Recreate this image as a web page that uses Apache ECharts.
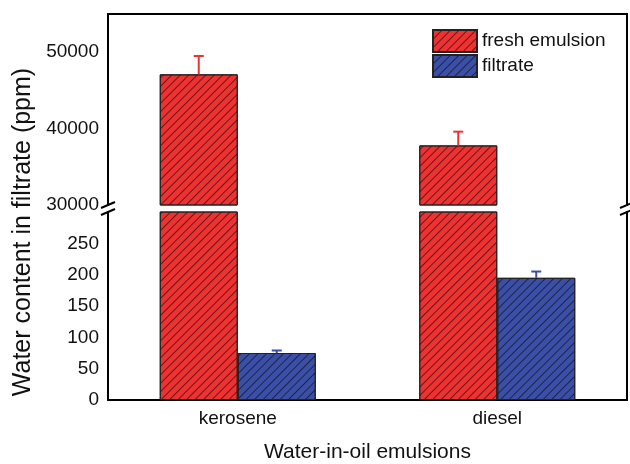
<!DOCTYPE html>
<html>
<head>
<meta charset="utf-8">
<script src="https://cdn.jsdelivr.net/npm/echarts@6/dist/echarts.min.js"></script>
<style>
  html, body { margin: 0; padding: 0; background: #fff; }
  #chart { width: 630px; height: 464px; }
</style>
</head>
<body>
<div id="chart"></div>
<script>
const categories = ['kerosene', 'diesel'];
const freshValues = [47100, 37800];
const freshErrors = [2400, 1800];
const filtrateValues = [75, 195];
const filtrateErrors = [4, 10];
const upperTicks = [30000, 40000, 50000];
const lowerTicks = [0, 50, 100, 150, 200, 250];

const font = 'Liberation Sans, Arial, sans-serif';
const red = '#ee3131';
const blue = '#3c4fa7';
const barWidth = 78;

const hatch = {
  symbol: 'rect',
  dashArrayX: [1, 0],
  dashArrayY: [1, 5],
  symbolSize: 1,
  rotation: -Math.PI / 4,
  color: 'rgba(0, 0, 0, 0.55)'
};

function barStyle(color) {
  return { color: color, borderColor: '#222', borderWidth: 1, decal: hatch };
}

// error bar drawn from the bar top upward, shifted onto its bar within the category
function errorRenderer(offset) {
  return function (params, api) {
    const idx = api.value(0);
    const top = api.coord([idx, api.value(1)]);
    const high = api.coord([idx, api.value(1) + api.value(2)]);
    const x = top[0] + offset;
    const style = { stroke: api.visual('color'), lineWidth: 2 };
    return {
      type: 'group',
      children: [
        { type: 'line', shape: { x1: x, y1: top[1], x2: x, y2: high[1] }, style: style },
        { type: 'line', shape: { x1: x - 5, y1: high[1], x2: x + 5, y2: high[1] }, style: style }
      ]
    };
  };
}

const freshErrData = categories.map((c, i) => [i, freshValues[i], freshErrors[i]]);
const filtrateErrData = categories.map((c, i) => [i, filtrateValues[i], filtrateErrors[i]]);

const axisLine = { show: true, onZero: false, lineStyle: { color: '#000', width: 2 } };
const borderAxis = (gridIndex) => ({
  gridIndex: gridIndex, type: 'value', position: 'right', min: 0, max: 1,
  axisLine: axisLine, axisTick: { show: false }, axisLabel: { show: false }, splitLine: { show: false }
});

function breakMarks(x) {
  return [205, 212].map(y => ({
    type: 'line',
    shape: { x1: x - 7, y1: y + 3, x2: x + 7, y2: y - 3 },
    style: { stroke: '#000', lineWidth: 2 }
  }));
}

const chart = echarts.init(document.getElementById('chart'));

chart.setOption({
  animation: false,
  textStyle: { fontFamily: font },
  grid: [
    { left: 108, right: 3, top: 14, height: 191 },
    { left: 108, right: 3, top: 212, height: 191 }
  ],
  legend: {
    data: ['fresh emulsion', 'filtrate'],
    orient: 'vertical',
    left: 432,
    top: 29,
    icon: 'rect',
    itemWidth: 44,
    itemHeight: 22,
    itemGap: 1,
    padding: 0,
    textStyle: { fontSize: 19, color: '#111', fontFamily: font }
  },
  xAxis: [
    {
      gridIndex: 0, type: 'category', data: categories, position: 'top',
      axisLine: axisLine, axisTick: { show: false }, axisLabel: { show: false }
    },
    {
      gridIndex: 1, type: 'category', data: categories, position: 'bottom',
      axisLine: axisLine, axisTick: { show: false },
      axisLabel: { fontSize: 19, color: '#111', margin: 9, fontFamily: font },
      name: 'Water-in-oil emulsions', nameLocation: 'middle', nameGap: 42,
      nameTextStyle: { fontSize: 21, color: '#111', fontFamily: font }
    }
  ],
  yAxis: [
    {
      gridIndex: 0, type: 'value', min: 30000, max: 55000,
      axisLine: axisLine,
      axisTick: { inside: true, length: 6, lineStyle: { width: 2, color: '#000' }, customValues: upperTicks },
      axisLabel: { fontSize: 19, color: '#111', margin: 9, customValues: upperTicks, fontFamily: font, formatter: v => String(v) },
      splitLine: { show: false }
    },
    {
      gridIndex: 1, type: 'value', min: 0, max: 300,
      axisLine: axisLine,
      axisTick: { inside: true, length: 6, lineStyle: { width: 2, color: '#000' }, customValues: lowerTicks },
      axisLabel: { fontSize: 19, color: '#111', margin: 9, customValues: lowerTicks, fontFamily: font, formatter: v => String(v) },
      splitLine: { show: false }
    },
    borderAxis(0),
    borderAxis(1)
  ],
  series: [
    { name: 'fresh emulsion', type: 'bar', xAxisIndex: 0, yAxisIndex: 0, barWidth: barWidth, barGap: '0%', data: freshValues, itemStyle: barStyle(red) },
    { name: 'filtrate', type: 'bar', xAxisIndex: 0, yAxisIndex: 0, barWidth: barWidth, barGap: '0%', data: filtrateValues, itemStyle: barStyle(blue) },
    { name: 'fresh emulsion', type: 'bar', xAxisIndex: 1, yAxisIndex: 1, barWidth: barWidth, barGap: '0%', data: freshValues, itemStyle: barStyle(red) },
    { name: 'filtrate', type: 'bar', xAxisIndex: 1, yAxisIndex: 1, barWidth: barWidth, barGap: '0%', data: filtrateValues, itemStyle: barStyle(blue) },
    {
      name: 'fresh error', type: 'custom', xAxisIndex: 0, yAxisIndex: 0, z: 3,
      renderItem: errorRenderer(-barWidth / 2), data: freshErrData, itemStyle: { color: red }
    },
    {
      name: 'filtrate error', type: 'custom', xAxisIndex: 1, yAxisIndex: 1, z: 3,
      renderItem: errorRenderer(barWidth / 2), data: filtrateErrData, itemStyle: { color: blue }
    }
  ],
  graphic: [
    {
      type: 'text', x: 23, y: 232, rotation: Math.PI / 2,
      style: {
        text: 'Water content in filtrate (ppm)', fontSize: 25, fontFamily: font,
        fill: '#111', align: 'center', verticalAlign: 'middle'
      }
    },
    ...breakMarks(108),
    ...breakMarks(627)
  ]
});
</script>
</body>
</html>
